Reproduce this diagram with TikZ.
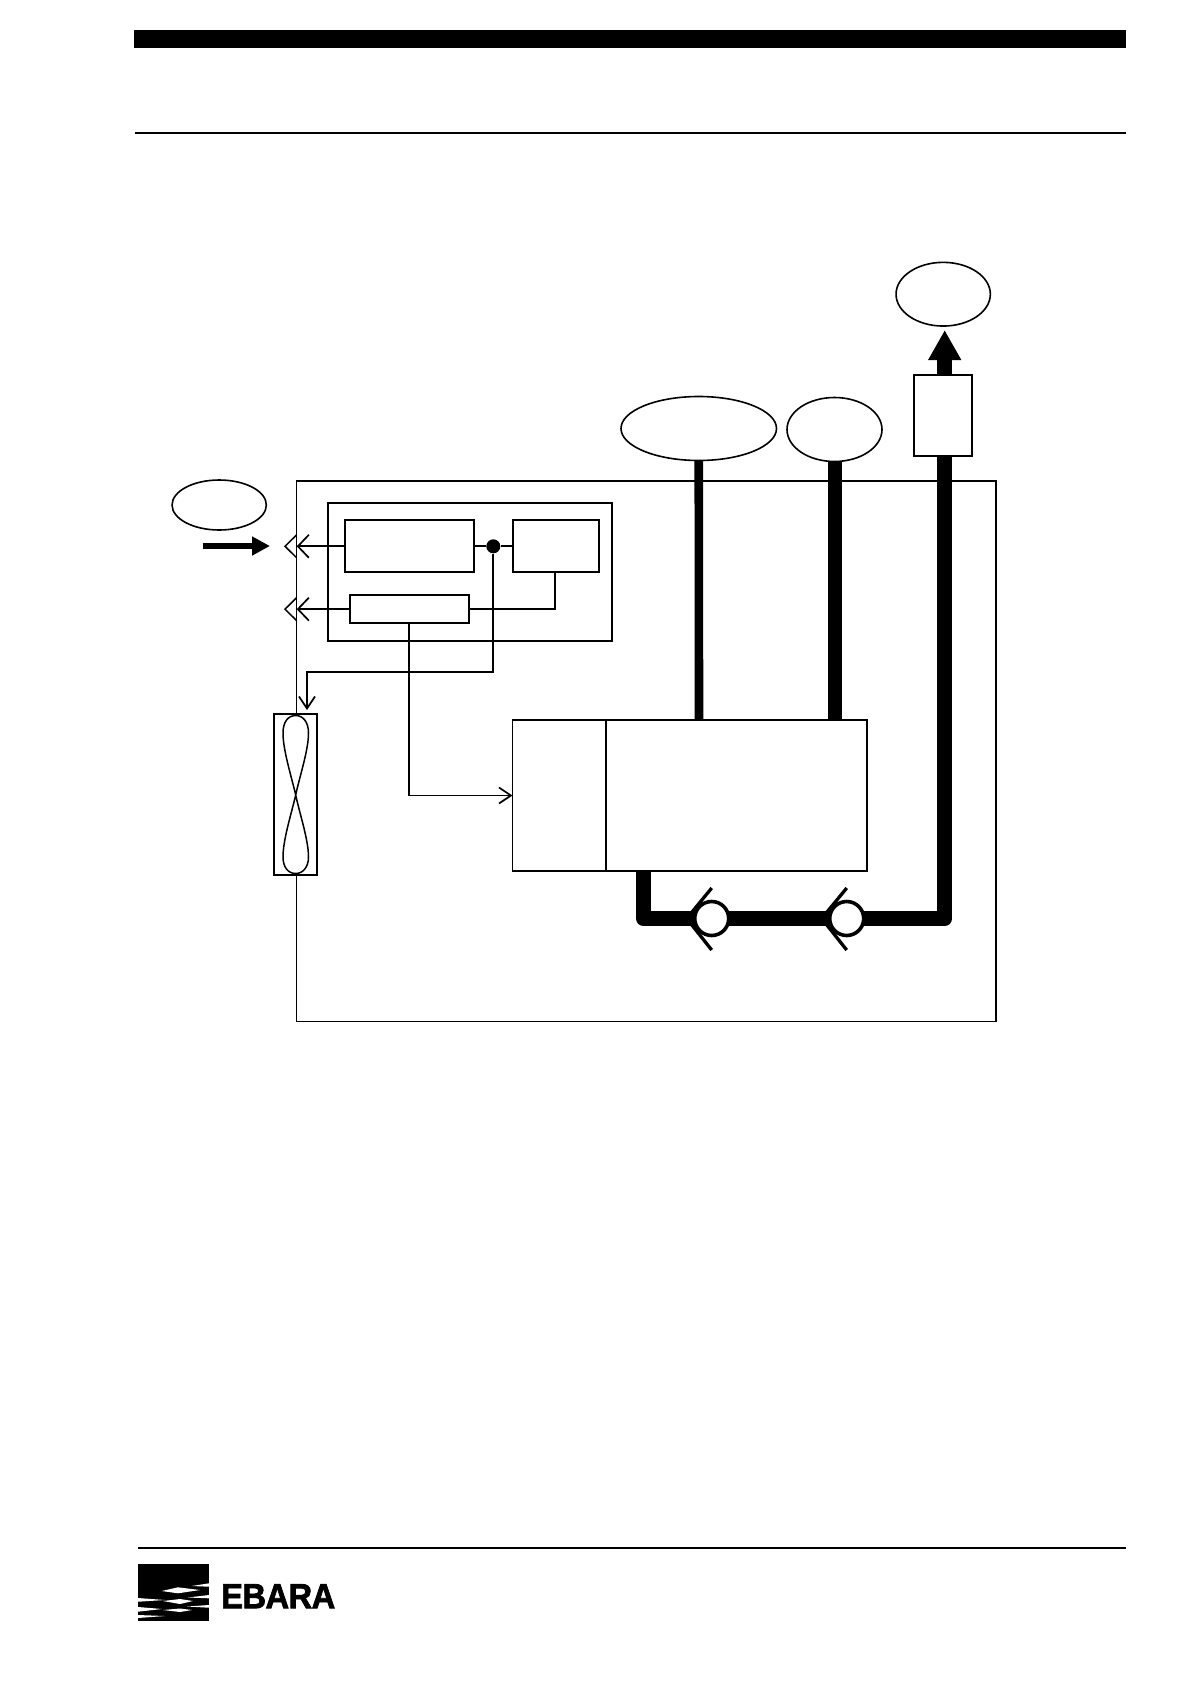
\documentclass[tikz,border=0pt]{standalone}
\usepackage{graphicx}
\usepackage{fontspec}
\setmainfont{Liberation Sans}
\newfontfamily\logofont[FakeBold=2.2,LetterSpace=-1.5]{Liberation Sans Bold}
\usetikzlibrary{arrows.meta,shapes.geometric}
\tikzset{
  thin line/.style={line width=1.7pt,black},
  blockbox/.style={draw=black,line width=1.7pt,fill=white,rectangle,inner sep=0pt,outer sep=0pt,anchor=north west},
  ovalnode/.style={draw=black,line width=1.6pt,fill=white,ellipse,inner sep=0pt,outer sep=0pt,anchor=center},
  barb/.style={-{Straight Barb[length=11pt,width=23pt,line width=1.7pt]}},
  smallbarb/.style={-{Straight Barb[length=12pt,width=16pt,line width=1.7pt]}},
  chevron/.style={line width=1.5pt,black,line join=miter},
  pipe/.style={black,line join=round},
  valvering/.style={circle,draw=black,fill=white,line width=3.6pt,minimum size=34pt,inner sep=0pt},
  valvechev/.style={black,line width=3.3pt},
  streak/.style={fill=white,draw=none},
}
\begin{document}
\begin{tikzpicture}[x=1pt,y=-1pt]
\useasboundingbox (0,0) rectangle (1190,1684);
\fill[white] (0,0) rectangle (1190,1684);
% page furniture
\fill[black] (134,30) rectangle (1126,47.5);
\draw[line width=1.7pt] (134.5,133) -- (1125.5,133);
\draw[line width=1.7pt] (138,1548) -- (1126,1548);
% logo
\fill[black] (138,1564) rectangle (209,1621);
\fill[streak] (191.7,1586) -- (209,1583.3) -- (209,1586.7) -- cycle;
\fill[streak] (161.7,1591) -- (178,1587.3) -- (200,1590) -- (178,1593.3) -- cycle;
\fill[streak] (138,1598) -- (165,1600) -- (138,1601.7) -- cycle;
\fill[streak] (188,1597.5) -- (209,1595) -- (209,1598.3) -- cycle;
\fill[streak] (163,1601) -- (180,1599) -- (193,1601) -- (180,1604) -- cycle;
\fill[streak] (187,1606.5) -- (209,1605) -- (209,1607.7) -- cycle;
\fill[streak] (138,1607) -- (162,1609) -- (138,1611.7) -- cycle;
\fill[streak] (163,1610) -- (180,1608.5) -- (192,1610) -- (180,1612) -- cycle;
\fill[streak] (138,1615) -- (165,1616) -- (138,1618) -- cycle;
\node[inner sep=0pt,anchor=north west] (logotext) at (221,1584) {\resizebox{114pt}{24pt}{\logofont EBARA}};
% main frame
\node[blockbox,fill=none,minimum width=699.5pt,minimum height=540.5pt] (frame) at (296.5,481) {};
% ovals and engine
\node[ovalnode,minimum width=155.5pt,minimum height=64pt] (ovalM) at (698.75,428.5) {};
\node[ovalnode,minimum width=95pt,minimum height=64pt] (ovalR) at (834.5,429.5) {};
\node[ovalnode,minimum width=94.3pt,minimum height=63.7pt] (ovalT) at (943.2,294.2) {};
\node[ovalnode,minimum width=94.3pt,minimum height=50pt] (ovalL) at (219.2,505) {};
\node[blockbox,minimum width=93.5pt,minimum height=151pt] (ctrl) at (512.5,720) {};
\node[blockbox,minimum width=260.7pt,minimum height=151pt] (pump) at (606,720) {};
\coordinate (pipeA) at (699,720);
\coordinate (pipeB) at (834.5,720);
\draw[pipe,line width=8.6pt] (ovalM.south) -- (pipeA);
\draw[pipe,line width=14pt] (ovalR.south) -- (pipeB);
% discharge pipe
\coordinate (pipeStart) at (643.8,871.7);
\coordinate (pipeCornerL) at (643.8,918.7);
\coordinate (pipeCornerR) at (944.7,918.7);
\draw[pipe,line width=15.3pt] (pipeStart) -- (pipeCornerL) -- (pipeCornerR) -- (pipeCornerR |- 0,440);
\draw[pipe,line width=15.3pt,-{Triangle[length=30pt,width=31pt]},shorten >=4pt] (pipeCornerR |- 0,380) -- (pipeCornerR |- ovalT.south);
\node[blockbox,minimum width=58pt,minimum height=81pt] (filter) at (914.3,375.3) {};
% valves
\coordinate (tipA) at (686.7,918.5);
\coordinate (tipB) at (821.7,918.5);
\draw[valvechev] (711.7,888) -- (tipA) -- (711.7,950);
\draw[valvechev] (846.7,888) -- (tipB) -- (846.7,950);
\node[valvering] (valveA) at (711.7,918.5) {};
\node[valvering] (valveB) at (846.7,918.5) {};
% fan
\node[blockbox,minimum width=42.7pt,minimum height=160.7pt] (fan) at (274.3,714.3) {};
\draw[line width=1.5pt] (295.7,715.5) .. controls (303,715.5) and (308.5,722) .. (308.5,733)
  .. controls (308.5,750) and (300,775) .. (295.7,795)
  .. controls (291,815) and (283,840) .. (283,857)
  .. controls (283,867) and (288,873.5) .. (295.7,873.5)
  .. controls (303,873.5) and (308.5,867) .. (308.5,857)
  .. controls (308.5,840) and (300,815) .. (295.7,795)
  .. controls (291,775) and (283,750) .. (283,733)
  .. controls (283,722) and (288,715.5) .. (295.7,715.5) -- cycle;
% control panel
\node[blockbox,minimum width=283.4pt,minimum height=138pt] (panel) at (328.3,502.7) {};
\node[blockbox,minimum width=129.6pt,minimum height=52pt] (boxA) at (344.7,520.3) {};
\node[blockbox,minimum width=86pt,minimum height=52pt] (boxB) at (513.3,520.3) {};
\node[blockbox,minimum width=119.6pt,minimum height=28.3pt] (boxC) at (349.7,595) {};
\node[circle,fill=black,minimum size=14pt,inner sep=0pt] (dot) at (493.3,546.3) {};
\coordinate (sockA) at (296.7,546.3);
\coordinate (sockC) at (296.7,609.15);
\draw[thin line,barb] (boxA.west) -- (sockA);
\draw[thin line,barb] (boxC.west) -- (sockC);
\draw[chevron] (296.7,534.8) -- (285,546.3) -- (296.7,557.8);
\draw[chevron] (296.7,597.6) -- (285,609.15) -- (296.7,620.7);
\draw[thin line] (boxA.east) -- (dot) -- (boxB.west);
\draw[thin line] (554.7,572.3) -- (554.7,609.15) -- (boxC.east);
\coordinate (fanIn) at (307,710);
\draw[thin line,smallbarb] (dot.south) -- (493.3,672) -- (307,672) -- (fanIn);
\draw[thin line,smallbarb] (408.7,623.3) -- (408.7,795.5) -- (ctrl.west);
% inlet arrow
\coordinate (inA) at (202.7,546);
\coordinate (inB) at (270,546);
\draw[line width=6.5pt,-{Triangle[length=18pt,width=18pt]}] (inA) -- (inB);
\end{tikzpicture}
\end{document}
